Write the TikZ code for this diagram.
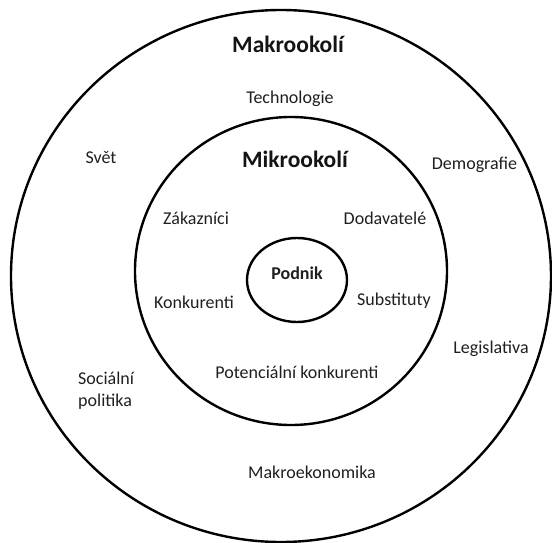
\documentclass[tikz,border=0pt]{standalone}
\usepackage{fontspec}
\setmainfont{Carlito}
\begin{document}
\begin{tikzpicture}[x=1pt,y=-1pt,
  ring/.style={line width=2.4pt},
  lbl/.style={font=\fontsize{18}{22}\selectfont, text=black!88, inner sep=0pt, anchor=base},
  ttl/.style={font=\fontsize{23.5}{28}\selectfont\bfseries, text=black!92, inner sep=0pt, anchor=base}]
\useasboundingbox (0,0) rectangle (552,543);
\clip (0,0) rectangle (552,543);
\draw[ring] (281,276) ellipse [x radius=270, y radius=266];
\draw[ring] (291,271) ellipse [x radius=156, y radius=154];
\draw[ring] (297,280) ellipse [x radius=50, y radius=42];
\node[ttl] (mak) at (288,52.5) {Makrookolí};
\node[lbl] (tech) at (290,103) {Technologie};
\node[lbl] (svet) at (101,163) {Svět};
\node[lbl] (demo) at (474.5,169) {Demografie};
\node[ttl] (mik) at (295,167.5) {Mikrookolí};
\node[lbl] (zak) at (196,224) {Zákazníci};
\node[lbl] (dod) at (385,224) {Dodavatelé};
\node[lbl, font=\fontsize{18}{22}\selectfont\bfseries] (pod) at (297,279) {Podnik};
\node[lbl] (konk) at (194,308) {Konkurenti};
\node[lbl] (subs) at (394,305) {Substituty};
\node[lbl] (legis) at (491,353) {Legislativa};
\node[lbl, anchor=base west, align=left] (soc) at (78,406) {Sociální\\politika};
\node[lbl] (pot) at (297,378) {Potenciální konkurenti};
\node[lbl] (makro) at (312,478) {Makroekonomika};
\end{tikzpicture}
\end{document}
